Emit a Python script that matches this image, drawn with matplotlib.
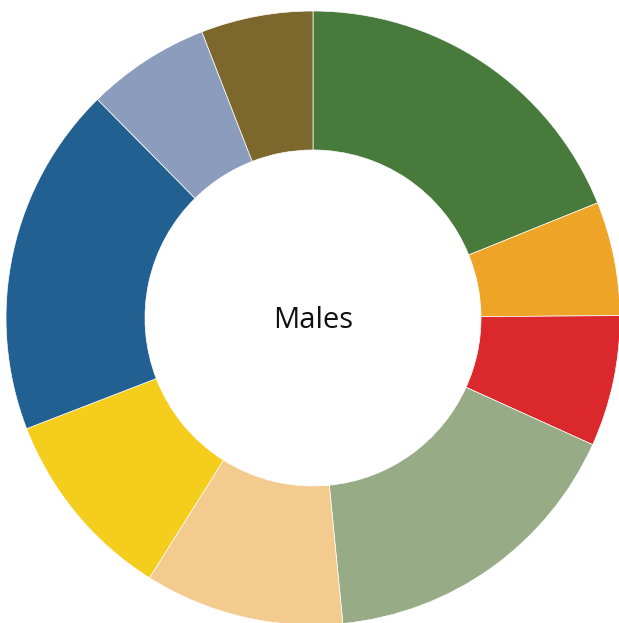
import matplotlib
matplotlib.use("Agg")
import matplotlib.pyplot as plt

# slice shares, clockwise from 12 o'clock
labels = ["A", "B", "C", "D", "E", "F", "G", "H", "I"]
shares = [18.9, 6.0, 6.9, 16.7, 10.5, 10.2, 18.5, 6.5, 5.9]
colors = ["#487A3B", "#EDA427", "#DB282C", "#97AC86", "#F3CB8F",
          "#F5CD1C", "#236092", "#8C9CBD", "#7C672D"]
title = "Males"

fig = plt.figure(figsize=(6.19, 6.23), dpi=100)
ax = fig.add_axes([0, 0, 1, 1])
ax.pie(shares, colors=colors, startangle=90, counterclock=False,
       center=(313, 305), radius=307,
       wedgeprops=dict(width=307 - 168, edgecolor="white", linewidth=0.5))
ax.text(313, 302, title, ha="center", va="center", fontsize=21,
        family="Open Sans", color="#111111")
ax.set_xlim(0, 619)
ax.set_ylim(0, 623)
ax.set_aspect("equal")
ax.axis("off")
fig.savefig("out.png", dpi=100)
